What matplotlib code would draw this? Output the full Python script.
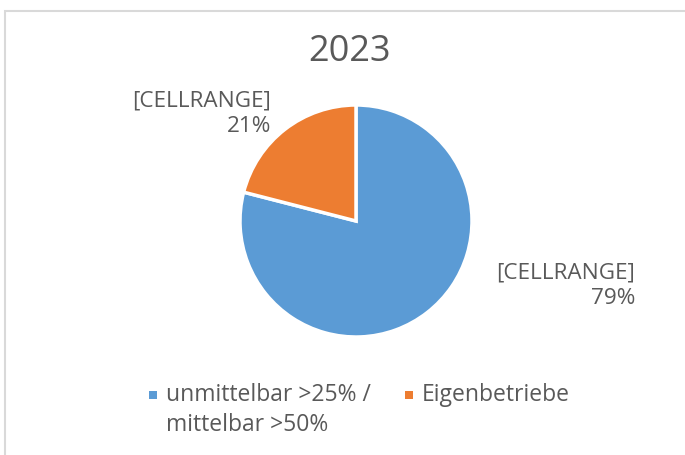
import matplotlib
matplotlib.use("Agg")
import matplotlib.pyplot as plt
from matplotlib.patches import Rectangle

plt.rcParams['font.family'] = ['Open Sans', 'DejaVu Sans']

title = "2023"
categories = ["unmittelbar >25% /\nmittelbar >50%", "Eigenbetriebe"]
values = [79, 21]
colors = ["#5B9BD5", "#ED7D31"]
label_name = "[CELLRANGE]"
text_color = "#595959"

W, H = 685, 455
fig = plt.figure(figsize=(W / 100, H / 100), dpi=100)

def fx(x):
    return x / W

def fy(y):
    return 1 - y / H

# chart border (light gray)
fig.patches.append(Rectangle((fx(5), fy(H + 20)), 2, (H + 20 - 11) / H,
                             transform=fig.transFigure, fill=False,
                             edgecolor="#D9D9D9", linewidth=1.5))

# pie axes
cx, cy, r = 356, 221, 116
ax = fig.add_axes([fx(cx - r), fy(cy + r), 2 * r / W, 2 * r / H])
wedges, _ = ax.pie(values, colors=colors, startangle=90, counterclock=False,
                   radius=1, wedgeprops=dict(edgecolor="white", linewidth=2.5))
ax.set_xlim(-1.0, 1.0)
ax.set_ylim(-1.0, 1.0)
ax.set_aspect("equal")
ax.axis("off")

fig.text(fx(349), fy(52), title, ha="center", va="center", fontsize=26, color=text_color)

total = sum(values)
# data labels
label_pos = [(635, 286), (271, 114)]
for (px, py), v in zip(label_pos, values):
    fig.text(fx(px), fy(py), f"{label_name}\n{round(100 * v / total)}%",
             ha="right", va="center", fontsize=16.2, color=text_color,
             linespacing=1.25)

# legend (manual, keys aligned with first text line)
leg_items = [(149, 395), (405, 395)]
for (px, py), cat, col in zip(leg_items, categories, colors):
    fig.patches.append(Rectangle((fx(px), fy(py + 4)), 8 / W, 8 / H,
                                 transform=fig.transFigure, facecolor=col,
                                 edgecolor="none"))
    for i, line in enumerate(cat.split("\n")):
        fig.text(fx(px + 17), fy(py + 30 * i), line, ha="left",
                 va="center", fontsize=16.5, color=text_color)

fig.savefig("out.png", dpi=100)
